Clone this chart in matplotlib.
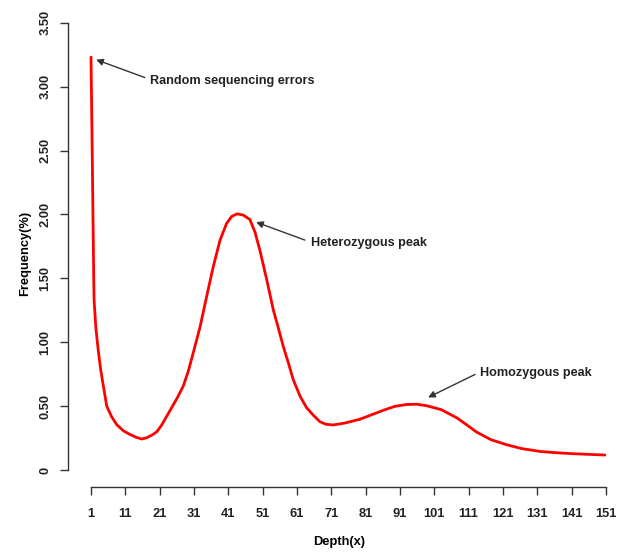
import matplotlib
matplotlib.use("Agg")
import matplotlib.pyplot as plt

plt.rcParams["font.family"] = ["Liberation Sans", "DejaVu Sans"]

# k-mer depth distribution
depth = [1.0, 1.35, 1.8, 1.9, 2.4, 3.1, 3.8, 4.6, 5.6, 7.0, 8.5, 10.4, 12.4,
         14.2, 15.8, 17.2, 18.7, 20.1, 21.5, 23.0, 24.5, 26.2, 27.9, 29.4,
         30.8, 32.8, 34.7, 36.6, 38.6, 40.5, 42.0, 43.6, 45.4, 47.3, 48.8,
         50.2, 52.2, 54.1, 55.6, 57.0, 58.5, 59.9, 61.9, 63.8, 65.8, 67.7,
         69.5, 71.6, 75.0, 79.4, 82.8, 86.2, 89.5, 92.9, 95.9, 98.8, 103.0,
         107.6, 110.5, 113.3, 117.5, 122.1, 126.5, 131.8, 136.5, 141.5,
         146.0, 150.7]
freq = [3.23, 2.50, 1.49, 1.33, 1.12, 0.94, 0.79, 0.66, 0.50, 0.42, 0.357,
        0.31, 0.28, 0.258, 0.245, 0.255, 0.275, 0.30, 0.35, 0.42, 0.49, 0.57,
        0.66, 0.78, 0.92, 1.125, 1.36, 1.59, 1.80, 1.93, 1.985, 2.005, 1.995,
        1.96, 1.86, 1.72, 1.49, 1.255, 1.11, 0.97, 0.84, 0.71, 0.58, 0.49,
        0.43, 0.38, 0.36, 0.355, 0.37, 0.40, 0.435, 0.47, 0.50, 0.515, 0.517,
        0.505, 0.475, 0.41, 0.355, 0.30, 0.24, 0.20, 0.17, 0.148, 0.138, 0.13,
        0.125, 0.12]

xticks = list(range(1, 152, 10))
yticks = [0, 0.5, 1.0, 1.5, 2.0, 2.5, 3.0, 3.5]
ylabels = ["0", "0.50", "1.00", "1.50", "2.00", "2.50", "3.00", "3.50"]

fig = plt.figure(figsize=(6.19, 5.52), dpi=100)
ax = fig.add_axes([68 / 619, 1 - 487 / 552, (610 - 68) / 619, (487 - 20) / 552])

ax.plot(depth, freq, color="#ff0000", lw=2.0, solid_joinstyle="round",
        solid_capstyle="round")

ax.set_xlim(-5.7, 152.2)
ax.set_ylim(-0.13, 3.52)
for s in ["top", "right"]:
    ax.spines[s].set_visible(False)
ax.spines["left"].set_bounds(0, 3.5)
ax.spines["bottom"].set_bounds(1, 151)
for s in ["left", "bottom"]:
    ax.spines[s].set_color("#333333")
    ax.spines[s].set_linewidth(1.0)

ax.set_xticks(xticks)
ax.set_xticklabels([str(t) for t in xticks], fontsize=9.3, fontweight="bold")
ax.set_yticks(yticks)
ax.set_yticklabels(ylabels, rotation=90, va="center", fontsize=9.3,
                   fontweight="bold")
ax.tick_params(axis="both", direction="out", length=6, width=1.0,
               color="#333333", labelcolor="#222222")
ax.tick_params(axis="x", pad=9)
ax.tick_params(axis="y", pad=6)

ax.set_xlabel("Depth(x)", fontsize=9.3, fontweight="bold", labelpad=12)
ax.set_ylabel("Frequency(%)", fontsize=9.3, fontweight="bold", labelpad=6)

arrow = dict(arrowstyle="-|>", color="#333333", lw=1.0, mutation_scale=10,
             shrinkA=0, shrinkB=0)
notes = [
    ("Random sequencing errors", (2.5, 3.21), (16.7, 3.07), (18.2, 3.04)),
    ("Heterozygous peak", (49.1, 1.94), (63.3, 1.80), (65.1, 1.78)),
    ("Homozygous peak", (99.2, 0.57), (112.9, 0.75), (114.3, 0.76)),
]
for label, tip, tail, pos in notes:
    ax.annotate("", xy=tip, xytext=tail, arrowprops=arrow)
    ax.text(pos[0], pos[1], label, fontsize=9.1, fontweight="bold",
            color="#222222", ha="left", va="center")

fig.savefig("out.png", dpi=100)
